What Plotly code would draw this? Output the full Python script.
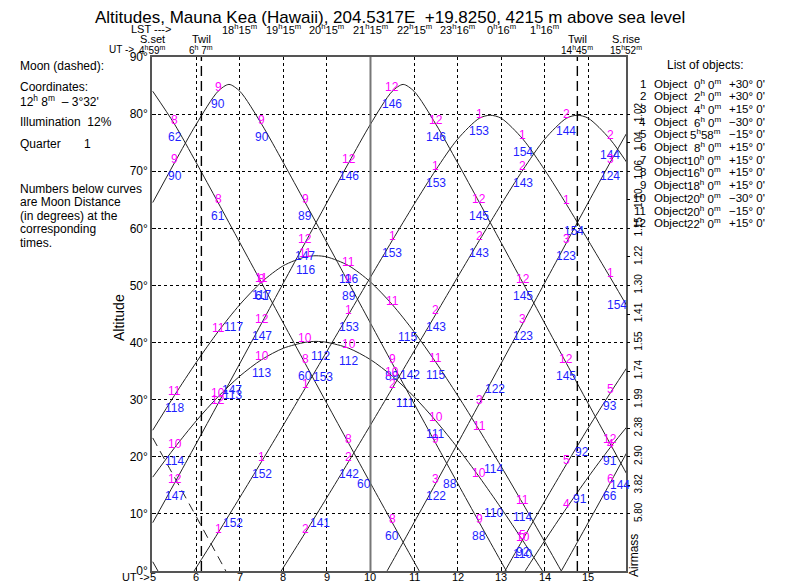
import plotly.graph_objects as go

# ---------------- data ----------------
UT = [5.0, 5.5, 6.0, 6.5, 7.0, 7.5, 8.0, 8.5, 9.0, 9.5, 10.0, 10.5,
      11.0, 11.5, 12.0, 12.5, 13.0, 13.5, 14.0, 14.5, 15.0, 15.5, 16.0]

ALT_1 = [-11.0, -5.3, 0.61, 6.68, 12.88, 19.18, 25.56, 32.0, 38.48, 44.97, 51.46, 57.88,
         64.19, 70.23, 75.61, 79.28, 79.28, 75.61, 70.23, 64.19, 57.88, 51.46, 44.97]
ALT_2 = [-30.5, -26.3, -21.57, -16.44, -11.0, -5.3, 0.61, 6.68, 12.88, 19.18, 25.56, 32.0,
         38.48, 44.97, 51.46, 57.88, 64.19, 70.23, 75.61, 79.28, 79.28, 75.61, 70.23]
ALT_3 = [-55.0, -53.5, -50.6, -46.6, -41.9, -36.5, -30.8, -24.6, -18.3, -11.79, -5.13, 1.62,
         8.47, 15.37, 22.33, 29.32, 36.34, 43.39, 50.44, 57.49, 64.52, 71.49, 78.24]
ALT_4 = [-64.19, -70.23, -75.61, -79.28, -79.28, -75.61, -70.23, -64.19, -57.88, -51.46, -44.97, -38.48,
         -32.0, -25.56, -19.18, -12.88, -6.68, -0.61, 5.3, 11.0, 16.44, 21.57, 26.29]
ALT_5 = [-64.5, -71.5, -78.2, -84.0, -84.0, -78.2, -71.5, -64.5, -57.5, -50.4, -43.4, -36.3,
         -29.3, -22.3, -15.0, -8.1, -1.2, 5.55, 12.2, 18.7, 25.05, 31.1, 36.9]
ALT_6 = [-24.6, -30.8, -36.5, -41.9, -46.6, -50.6, -53.5, -55.0, -55.0, -53.5, -50.6, -46.6,
         -41.9, -36.5, -30.8, -24.6, -18.3, -11.79, -5.13, 1.62, 8.47, 15.37, 22.33]
ALT_7 = [1.62, -5.13, -11.79, -18.3, -24.6, -30.8, -36.5, -41.9, -46.6, -50.6, -53.5, -55.0,
         -55.0, -53.5, -50.6, -46.6, -41.9, -36.5, -30.8, -24.6, -18.3, -11.79, -5.13]
ALT_8 = [84.0, 78.24, 71.49, 64.52, 57.49, 50.44, 43.39, 36.34, 29.32, 22.33, 15.37, 8.47,
         1.62, -5.13, -11.79, -18.3, -24.6, -30.8, -36.5, -41.9, -46.6, -50.6, -53.5]
ALT_9 = [64.52, 71.49, 78.24, 84.0, 84.0, 78.24, 71.49, 64.52, 57.49, 50.44, 43.39, 36.34,
         29.32, 22.33, 15.37, 8.47, 1.62, -5.13, -11.79, -18.3, -24.6, -30.8, -36.5]
ALT_10 = [16.44, 21.57, 26.29, 30.52, 34.13, 37.01, 39.01, 40.04, 40.04, 39.01, 37.01, 34.13,
          30.52, 26.29, 21.57, 16.44, 11.0, 5.3, -0.61, -6.68, -12.88, -19.18, -25.56]
ALT_11 = [24.65, 30.76, 36.54, 41.9, 46.65, 50.6, 53.46, 54.99, 54.99, 53.46, 50.6, 46.65,
          41.9, 36.54, 30.76, 24.65, 18.31, 11.79, 5.13, -1.62, -8.47, -15.37, -22.33]
ALT_12 = [8.47, 15.37, 22.33, 29.32, 36.34, 43.39, 50.44, 57.49, 64.52, 71.49, 78.24, 84.0,
          84.0, 78.24, 71.49, 64.52, 57.49, 50.44, 43.39, 36.34, 29.32, 22.33, 15.37]
ALTS = {1: ALT_1, 2: ALT_2, 3: ALT_3, 4: ALT_4, 5: ALT_5, 6: ALT_6,
        7: ALT_7, 8: ALT_8, 9: ALT_9, 10: ALT_10, 11: ALT_11, 12: ALT_12}

# culmination points
PEAK_UT = {1: 12.75, 2: 14.75, 9: 6.75, 10: 8.75, 11: 8.75, 12: 10.75}
PEAK_ALT = {1: 79.8, 2: 79.8, 9: 85.2, 10: 40.2, 11: 55.2, 12: 85.2}

MOON_UT = [5.0, 5.5, 6.0, 6.5, 7.0]
MOON_ALT = [23.3, 16.4, 9.5, 2.5, -4.5]

LABEL_TIMES = [5.5, 6.5, 7.5, 8.5, 9.5, 10.5, 11.5, 12.5, 13.5, 14.5, 15.5]
N = None
MOON_DIST = {
    1: [N, 152, 152, 153, 153, 153, 153, 153, 154, 154, 154],
    2: [N, N, N, 141, 142, 142, 143, 143, 143, 144, 144],
    3: [N, N, N, N, N, N, 122, 122, 123, 123, 124],
    4: [N, N, N, N, N, N, N, N, N, 91, 91],
    5: [N, N, N, N, N, N, N, N, 92, 92, 93],
    6: [N, N, N, N, N, N, N, N, N, N, 66],
    7: [N, N, N, N, N, N, N, N, N, N, N],
    8: [62, 61, 61, 60, 60, 60, N, N, N, N, N],
    9: [90, 90, 90, 89, 89, 89, 88, 88, N, N, N],
    10: [114, 113, 113, 112, 112, 111, 111, 110, 110, N, N],
    11: [118, 117, 117, 116, 116, 115, 115, 114, 114, N, N],
    12: [147, 147, 147, 147, 146, 146, 146, 145, 145, 145, 144],
}

UT_TICKS = [5, 6, 7, 8, 9, 10, 11, 12, 13, 14, 15]
ALT_TICKS = [0, 10, 20, 30, 40, 50, 60, 70, 80, 90]
AIRMASS_ALT = [80, 75, 70, 65, 60, 55, 50, 45, 40, 35, 30, 25, 20, 15, 10]
AIRMASS_LABELS = ["1.02", "1.04", "1.06", "1.10", "1.15", "1.22", "1.30", "1.41",
                  "1.55", "1.74", "1.99", "2.38", "2.90", "3.82", "5.80"]

LST_UT = [7, 8, 9, 10, 11, 12, 13, 14]
LST_H = [18, 19, 20, 21, 22, 23, 0, 1]
LST_M = [15, 15, 15, 15, 15, 16, 16, 16]

EVENT_NAMES = ["S.set", "Twil", "Twil", "S.rise"]
EVENT_UT = [4.983, 6.117, 14.75, 15.867]
EVENT_H = [4, 6, 14, 15]
EVENT_M = ["59", " 7", "45", "52"]
TWIL_UT = [6.117, 14.75]
MIDNIGHT_UT = 10

OBJ_RA_H = [0, 2, 4, 6, 5, 8, 10, 16, 18, 20, 20, 22]
OBJ_RA_M = [" 0", " 0", " 0", " 0", "58", " 0", " 0", " 0", " 0", " 0", " 0", " 0"]
OBJ_DEC = ["+30", "+30", "+15", "\u221230", "\u221215", "+15", "+15", "+15", "+15",
           "\u221230", "\u221215", "+15"]

# ---------------- layout helpers ----------------
# the page body adds an 8px offset; the plot area is placed at window pixels
# x 152..626, y 57..571
BODY = 8
PL, PT, PW, PH = 152, 57, 474, 514
FW, FH = 785 - BODY, 585 - BODY
ML, MT = PL - BODY, PT - BODY
MR = FW - ML - PW
MB = FH - MT - PH


def pxx(xp):
    return (xp - PL) / PW


def pxy(yp):
    return (PT + PH - yp) / PH


FONT = "Liberation Sans, Arial, sans-serif"
MAG = "#ff00ff"
BLU = "#1f1fff"

# label shifts (dx right, dy down) in pixels for the moon-distance numbers
BLUE_SHIFT = {
    (1, 6.5): (15, -10), (1, 8.5): (18, -11), (1, 14.5): (8, 27), (1, 15.5): (7, 28),
    (2, 8.5): (15, -10), (2, 10.5): (18, -13), (2, 15.5): (0, 16),
    (3, 12.5): (16, -15), (4, 14.5): (14, -9), (5, 14.5): (16, -12),
    (8, 9.5): (15, 41), (9, 11.5): (14, 41),
    (10, 6.5): (14, -2), (10, 8.5): (15, 14), (10, 10.5): (13, 27), (10, 12.5): (14, 36),
    (11, 6.5): (15, -5), (11, 10.5): (15, 32), (11, 12.5): (14, 39),
    (12, 6.5): (14, -14), (12, 15.5): (10, 42),
}
DEFAULT_BLUE = (0, 13)
MAG_DY = -4


def ptext(x, y, text, size=12, xanchor="center", angle=0, xref="paper"):
    return dict(x=x, y=y, xref=xref, yref="paper", text=text, showarrow=False,
                xanchor=xanchor, yanchor="middle", textangle=angle,
                font=dict(family=FONT, size=size, color="black"))


fig = go.Figure()

for obj in range(1, 13):
    xs = list(UT)
    ys = list(ALTS[obj])
    if obj in PEAK_UT:
        pts = sorted(zip(xs + [PEAK_UT[obj]], ys + [PEAK_ALT[obj]]))
        xs = [p[0] for p in pts]
        ys = [p[1] for p in pts]
    fig.add_trace(go.Scatter(x=xs, y=ys, mode="lines",
                             line=dict(color="#222222", width=1, shape="spline", smoothing=0.8),
                             hoverinfo="skip", showlegend=False))

fig.add_trace(go.Scatter(x=MOON_UT, y=MOON_ALT, mode="lines",
                         line=dict(color="#222222", width=1, dash="9px,6px", shape="spline"),
                         hoverinfo="skip", showlegend=False))
# helper trace so the airmass axis is drawn
fig.add_trace(go.Scatter(x=[None], y=[None], yaxis="y2", mode="lines",
                         hoverinfo="skip", showlegend=False))

ann = []
# curve labels
for obj in range(1, 13):
    for k, t in enumerate(LABEL_TIMES):
        d = MOON_DIST[obj][k]
        if d is None:
            continue
        alt = ALTS[obj][1 + 2 * k]
        ann.append(dict(x=t, y=alt, xref="x", yref="y", text=str(obj), showarrow=False,
                        xanchor="center", yanchor="middle",
                        font=dict(family=FONT, size=12, color=MAG), yshift=-MAG_DY))
        dx, dy = BLUE_SHIFT.get((obj, t), DEFAULT_BLUE)
        ann.append(dict(x=t, y=alt, xref="x", yref="y", text=str(d), showarrow=False,
                        xanchor="center", yanchor="middle",
                        font=dict(family=FONT, size=12, color=BLU), xshift=dx, yshift=-dy))

# title
ann.append(ptext(pxx(390), pxy(17.5),
                 "Altitudes, Mauna Kea (Hawaii), 204.5317E&nbsp;&nbsp;+19.8250, 4215 m above sea level",
                 size=17))
# LST row
ann.append(ptext(pxx(151), pxy(29), "LST ---&gt;", size=11))
for u, h, m in zip(LST_UT, LST_H, LST_M):
    ann.append(ptext(u, pxy(29), f"{h}<sup>h</sup>{m}<sup>m</sup>", size=11, xref="x"))
# events
for name, u, h, m in zip(EVENT_NAMES, EVENT_UT, EVENT_H, EVENT_M):
    ann.append(ptext(u, pxy(39), name, size=11, xref="x"))
    ann.append(ptext(u, pxy(49.5), f"{h}<sup>h</sup>{m.replace(' ', '&nbsp;')}<sup>m</sup>",
                     size=10, xref="x"))
ann.append(ptext(pxx(136), pxy(49.5), "UT -&gt;", size=10, xanchor="right"))
# bottom UT scale labels
ann.append(ptext(pxx(152), pxy(577), "UT -&gt;", size=11, xanchor="right"))
for u in UT_TICKS:
    ann.append(ptext(u, pxy(577), str(u), size=11, xref="x"))

# axis titles
ann.append(ptext(pxx(119), pxy(318), "Altitude", size=14, angle=-90))
ann.append(ptext(pxx(634), pxy(556), "Airmass", size=12, angle=-90))

# left text block
LEFT_TEXT = [("Moon (dashed):", 66), ("Coordinates:", 87),
             ("12<sup>h</sup> 8<sup>m</sup>&nbsp;&nbsp;\u2013 3\u00b032'", 101),
             ("Illumination&nbsp;&nbsp;12%", 122), ("Quarter&nbsp;&nbsp;&nbsp;&nbsp;&nbsp;&nbsp;&nbsp;1", 144),
             ("Numbers below curves", 189), ("are Moon Distance", 202),
             ("(in degrees) at the", 216), ("corresponding", 229), ("times.", 243)]
for txt, yy in LEFT_TEXT:
    ann.append(ptext(pxx(18), pxy(yy), txt, size=12, xanchor="left"))

# right list of objects
ann.append(ptext(pxx(705), pxy(65), "List of objects:", size=12))
for i in range(12):
    yy = 83.5 + i * 12.7
    ann.append(ptext(pxx(648), pxy(yy), str(i + 1), size=11.5, xanchor="right"))
    ann.append(ptext(pxx(652), pxy(yy), "Object", size=11.5, xanchor="left"))
    ann.append(ptext(pxx(723), pxy(yy),
                     f"{OBJ_RA_H[i]}<sup>h</sup>{OBJ_RA_M[i].replace(' ', '&nbsp;')}<sup>m</sup>",
                     size=11.5, xanchor="right"))
    ann.append(ptext(pxx(727), pxy(yy), f"{OBJ_DEC[i]}\u00b0 0'", size=11.5, xanchor="left"))

shapes = []
for u in TWIL_UT:
    shapes.append(dict(type="line", xref="x", yref="y", x0=u, x1=u, y0=0, y1=90,
                       line=dict(color="black", width=1.4, dash="10px,5px")))
shapes.append(dict(type="line", xref="x", yref="y", x0=MIDNIGHT_UT, x1=MIDNIGHT_UT, y0=0, y1=90,
                   line=dict(color="#777777", width=2)))

fig.update_layout(
    width=FW, height=FH,
    margin=dict(l=ML, r=MR, t=MT, b=MB, pad=0),
    paper_bgcolor="white", plot_bgcolor="white",
    showlegend=False,
    annotations=ann, shapes=shapes,
    xaxis=dict(range=[4.983, 15.867], tickvals=UT_TICKS, showticklabels=False,
               showgrid=True, gridcolor="black", griddash="dot", gridwidth=1,
               zeroline=False, showline=True, linecolor="#555555", linewidth=1.5, mirror=True,
               ticks="inside", ticklen=4, tickcolor="black", automargin=False),
    yaxis=dict(range=[0, 90], tickvals=ALT_TICKS, ticktext=[f"{v}\u00b0" for v in ALT_TICKS],
               showgrid=True, gridcolor="black", griddash="dot", gridwidth=1,
               zeroline=False, showline=True, linecolor="#555555", linewidth=1.5, mirror=True,
               ticks="inside", ticklen=4, tickcolor="black", automargin=False,
               tickfont=dict(family=FONT, size=12, color="black")),
    yaxis2=dict(range=[0, 90], overlaying="y", side="right", tickvals=AIRMASS_ALT,
                ticktext=AIRMASS_LABELS, tickangle=-90, showgrid=False, zeroline=False,
                showline=False, ticks="outside", ticklen=3, tickcolor="black", automargin=False,
                tickfont=dict(family=FONT, size=10, color="black")),
)

fig.write_html("out.html")
